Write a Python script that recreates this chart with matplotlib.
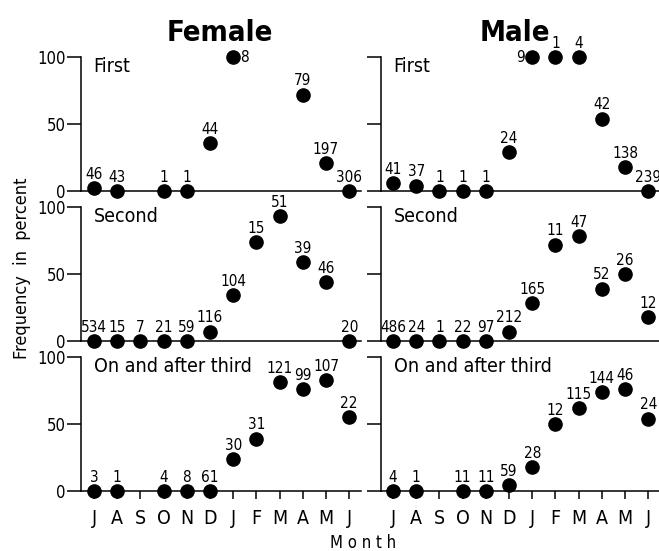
import matplotlib
matplotlib.use("Agg")
import matplotlib.pyplot as plt
from matplotlib import font_manager

# ищем узкий шрифт, как в оригинале (Helvetica Condensed)
fams = [(f.name, f.stretch) for f in font_manager.fontManager.ttflist]
names = {n for n, s in fams}
stretch = "normal"
if "Liberation Sans Narrow" in names:
    font = "Liberation Sans Narrow"
elif ("DejaVu Sans", "condensed") in fams or ("DejaVu Sans", 75) in fams:
    font = "DejaVu Sans"
    stretch = "condensed"
else:
    font = "DejaVu Sans"
plt.rcParams["font.family"] = [font, "DejaVu Sans"]
plt.rcParams["font.stretch"] = stretch

months = ["J", "A", "S", "O", "N", "D", "J", "F", "M", "A", "M", "J"]

# Female: percent and sample size per month (None = no point)
fem_first = [2, 0, None, 0, 0, 36, 100, None, None, 72, 21, 0]
fem_first_n = [46, 43, None, 1, 1, 44, 8, None, None, 79, 197, 306]
fem_second = [0, 0, 0, 0, 0, 7, 34, 74, 93, 59, 44, 0]
fem_second_n = [534, 15, 7, 21, 59, 116, 104, 15, 51, 39, 46, 20]
fem_third = [0, 0, None, 0, 0, 0, 24, 39, 81, 76, 83, 55]
fem_third_n = [3, 1, None, 4, 8, 61, 30, 31, 121, 99, 107, 22]

# Male
male_first = [6, 4, 0, 0, 0, 29, 100, 100, 100, 54, 18, 0]
male_first_n = [41, 37, 1, 1, 1, 24, 9, 1, 4, 42, 138, 239]
male_second = [0, 0, 0, 0, 0, 7, 28, 72, 78, 39, 50, 18]
male_second_n = [486, 24, 1, 22, 97, 212, 165, 11, 47, 52, 26, 12]
male_third = [0, 0, None, 0, 0, 4.5, 18, 50, 62, 74, 76, 54]
male_third_n = [4, 1, None, 11, 11, 59, 28, 12, 115, 144, 46, 24]

row_titles = ["First", "Second", "On and after third"]
col_titles = ["Female", "Male"]

panels = [
    [(fem_first, fem_first_n), (male_first, male_first_n)],
    [(fem_second, fem_second_n), (male_second, male_second_n)],
    [(fem_third, fem_third_n), (male_third, male_third_n)],
]

# подписи сбоку, а не сверху: (строка, столбец, месяц) -> сторона
side_labels = {(0, 0, 6): "right", (0, 1, 6): "left"}

W, H = 659, 551
fig = plt.figure(figsize=(W / 100, H / 100), dpi=100)

col_x = [(81, -0.56), (381, -0.52)]   # левый край оси в px, xmin
step = 23.2                            # px на месяц
row_zero = [191, 341, 491]             # y нуля в px
hpx = 134                              # px на 0..100

for r in range(3):
    for c in range(2):
        x0, xmin = col_x[c]
        xmax = 11.5
        wpx = (xmax - xmin) * step
        ax = fig.add_axes([x0 / W, 1 - row_zero[r] / H, wpx / W, hpx / H])
        vals, ns = panels[r][c]
        xs = [i for i, v in enumerate(vals) if v is not None]
        ys = [v for v in vals if v is not None]
        ax.plot(xs, ys, "o", color="black", markersize=9.5, clip_on=False, zorder=3)
        for i, v in enumerate(vals):
            if v is None:
                continue
            side = side_labels.get((r, c, i))
            if side == "right":
                ax.annotate(str(ns[i]), (i, v), xytext=(5, 0), textcoords="offset points",
                            ha="left", va="center", fontsize=11, annotation_clip=False)
            elif side == "left":
                ax.annotate(str(ns[i]), (i, v), xytext=(-5, 0), textcoords="offset points",
                            ha="right", va="center", fontsize=11, annotation_clip=False)
            else:
                ax.annotate(str(ns[i]), (i, v), xytext=(0, 4.5), textcoords="offset points",
                            ha="center", va="bottom", fontsize=11, annotation_clip=False)
        ax.set_xlim(xmin, xmax)
        ax.set_ylim(0, 100)
        for s in ["top", "right"]:
            ax.spines[s].set_visible(False)
        for s in ["left", "bottom"]:
            ax.spines[s].set_linewidth(1.1)
        ax.set_yticks([0, 50, 100])
        ax.tick_params(axis="y", length=10, width=1.1, direction="out", pad=1, labelsize=12)
        if c == 1:
            ax.set_yticklabels([])
        if r == 2:
            ax.set_xticks(range(12))
            ax.set_xticklabels(months)
            ax.tick_params(axis="x", length=6, width=1.1, pad=7, labelsize=14)
        else:
            ax.set_xticks([])
        ax.text(0.045, 0.93, row_titles[r], transform=ax.transAxes,
                ha="left", va="center", fontsize=14)
        ax.patch.set_alpha(0)

fig.text(220 / W, 1 - 33 / H, col_titles[0], ha="center", va="center", fontsize=21, fontweight="bold")
fig.text(515 / W, 1 - 33 / H, col_titles[1], ha="center", va="center", fontsize=21, fontweight="bold")
fig.text(22 / W, 1 - 268 / H, "Frequency  in  percent", rotation=90, ha="center", va="center", fontsize=13)
fig.text(363 / W, 1 - 543 / H, "M o n t h", ha="center", va="center", fontsize=12)

fig.savefig("out.png", dpi=100)
